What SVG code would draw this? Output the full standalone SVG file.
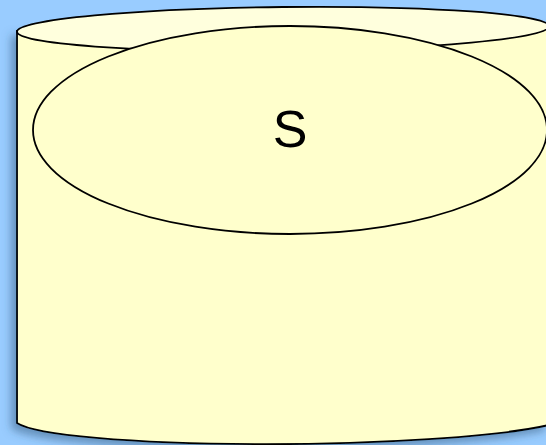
<svg xmlns="http://www.w3.org/2000/svg" width="546" height="445" viewBox="0 0 546 445">
<style>
.ln{stroke:#000;stroke-width:1.8}
.lbl{font-family:"Liberation Sans",Arial,sans-serif;font-size:52px;text-anchor:middle;fill:#000}
</style>
<defs>
<filter id="sh" x="-10%" y="-10%" width="120%" height="120%">
<feDropShadow dx="-5" dy="5" stdDeviation="4" flood-color="#335577" flood-opacity="0.5"/>
</filter>
</defs>
<rect width="546" height="445" fill="#99ccff"/>
<g id="cylinder">
<path class="ln" filter="url(#sh)" d="M17,31 L17,423 A280,28 -0.6 0 0 549,425 L549,25 Z" fill="#ffffcc"/>
<ellipse class="ln" cx="283" cy="29" rx="266" ry="22" fill="#ffffdd" transform="rotate(-0.6 283 29)"/>
</g>
<g id="S">
<ellipse class="ln" cx="290" cy="130" rx="257" ry="104" fill="#ffffcc"/>
<text class="lbl" x="290" y="147">S</text>
</g>
</svg>
